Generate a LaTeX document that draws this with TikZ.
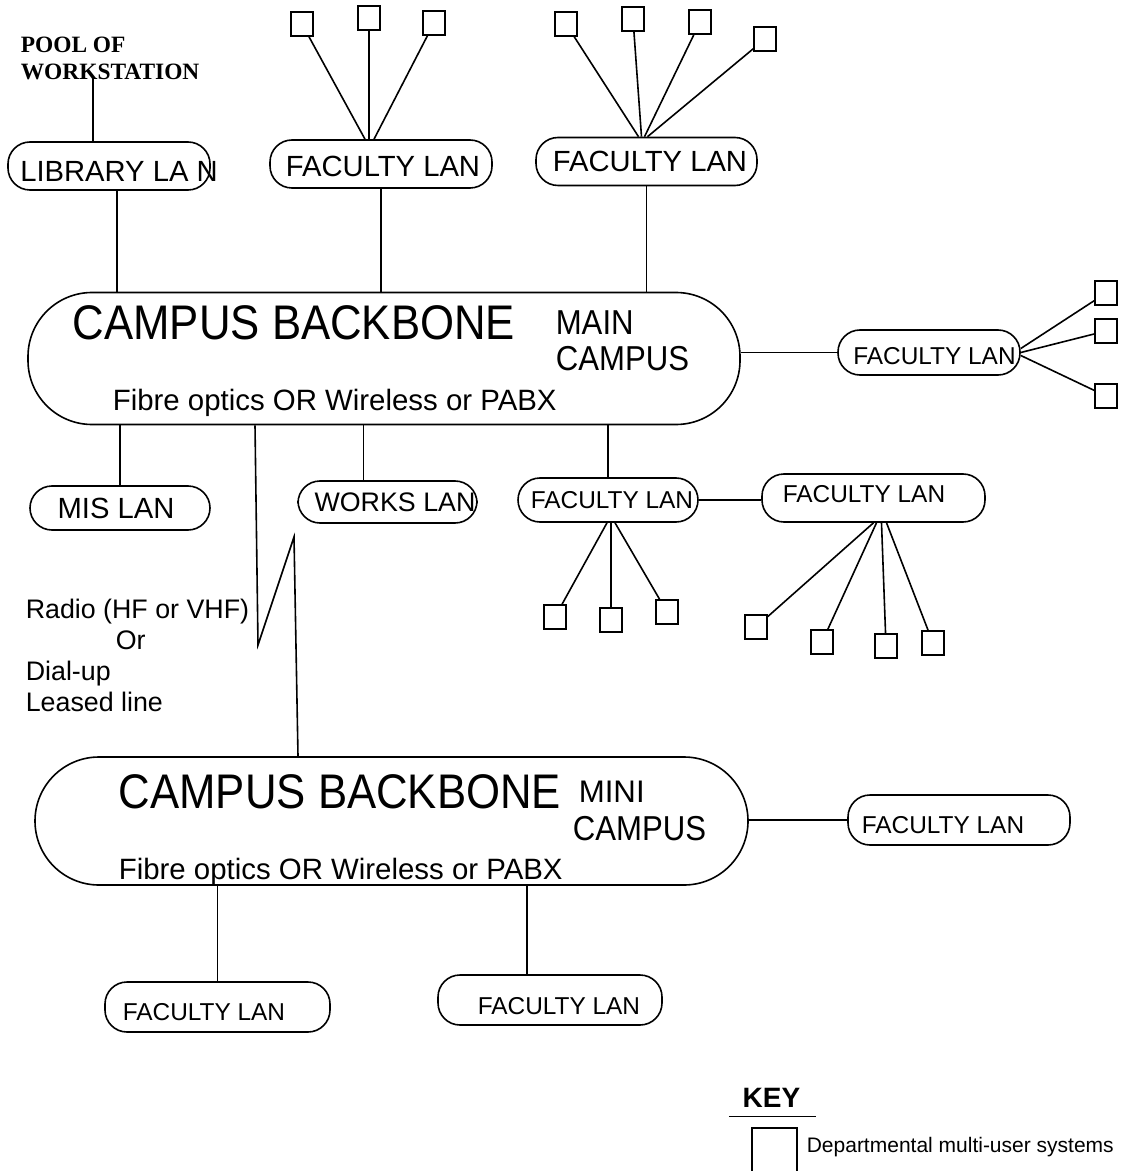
\documentclass[tikz,border=0pt]{standalone}
\usepackage{fontspec}
\setmainfont{Liberation Sans}
\newfontfamily\poolfont{Liberation Serif}
\newfontfamily\narrowfont[FakeStretch=0.9]{Liberation Sans}
\begin{document}
\begin{tikzpicture}[x=0.5pt,y=-0.5pt,line width=0.8pt,
  lan/.style={draw, rounded corners=11pt, minimum height=24pt, inner sep=0pt},
  backbone/.style={draw, rounded corners=32pt, minimum width=356pt, minimum height=66pt, inner sep=0pt},
  pc/.style={draw, minimum width=11pt, minimum height=12pt, inner sep=0pt},
  bigtxt/.style={inner sep=0pt, font=\fontsize{14.6}{17}\selectfont},
  smalltxt/.style={inner sep=0pt, font=\fontsize{12.2}{14}\selectfont},
  titletxt/.style={anchor=base west, inner sep=0pt, font={\narrowfont\fontsize{24.3}{28}\selectfont}},
  campustxt/.style={anchor=base west, inner sep=0pt, font={\narrowfont\fontsize{17.3}{20}\selectfont}},
  mediatxt/.style={anchor=base west, inner sep=0pt, font=\fontsize{14.7}{17}\selectfont}]
\path[use as bounding box] (0,0) rectangle (1123,1171);

% main campus backbone
\node[backbone] (bbm) at (384,358.5) {};
\node[titletxt] (bbmtitle) at (72,340) {CAMPUS BACKBONE};
\node[campustxt] (bbmmain) at (555,335) {MAIN};
\node[campustxt] (bbmcampus) at (555,371) {CAMPUS};
\node[mediatxt] (bbmmedia) at (112,410) {Fibre optics OR Wireless or PABX};

% library
\node[anchor=north west, inner sep=0pt, align=left,
  font={\poolfont\bfseries\fontsize{11.7}{13.5}\selectfont}] (pool) at (20,36) {POOL OF\\WORKSTATION};
\node[lan, minimum width=101pt] (lib) at (109,166) {};
\node[bigtxt] (libtxt) at (119,171) {LIBRARY LA N};
\coordinate (poolfoot) at (93,76);
\draw (poolfoot) -- (poolfoot |- lib.north);
\draw ([xshift=4pt]lib.south) -- ([xshift=4pt]lib.south |- bbm.north);

% faculty LANs on top
\node[lan, minimum width=111pt] (fac1) at (381,164) {};
\node[bigtxt] (fac1txt) at (383,166.5) {FACULTY LAN};
\draw (fac1.south) -- (fac1.south |- bbm.north);
\node[pc] (pca1) at (302,24) {};
\node[pc] (pca2) at (369,18) {};
\node[pc] (pca3) at (434,23) {};
\draw (pca1) -- ([xshift=-8pt]fac1.north);
\draw (pca2) -- ([xshift=-6pt]fac1.north);
\draw (pca3) -- ([xshift=-3.5pt]fac1.north);

\node[lan, minimum width=110.5pt] (fac2) at (646.5,161.5) {};
\node[bigtxt] (fac2txt) at (650,161.5) {FACULTY LAN};
\draw (fac2.south) -- (fac2.south |- bbm.north);
\node[pc] (pcb1) at (566,24) {};
\node[pc] (pcb2) at (633,19) {};
\node[pc] (pcb3) at (700,22) {};
\node[pc] (pcb4) at (765,39) {};
\draw (pcb1) -- ([xshift=-4pt]fac2.north);
\draw (pcb2) -- ([xshift=-2.5pt]fac2.north);
\draw (pcb3) -- ([xshift=-1pt]fac2.north);
\draw (pcb4) -- ([xshift=0.5pt]fac2.north);

% faculty LAN on the right
\node[lan, minimum width=91pt, minimum height=22.5pt] (fac3) at (929,352.5) {};
\node[smalltxt] (fac3txt) at (934.5,356) {FACULTY LAN};
\draw (fac3.west) -- (fac3.west -| bbm.east);
\node[pc] (pcc1) at (1106,293) {};
\node[pc] (pcc2) at (1106,331) {};
\node[pc] (pcc3) at (1106,396) {};
\draw ([yshift=2pt]fac3.east) -- (pcc1);
\draw (fac3.east) -- (pcc2);
\draw ([yshift=-1.5pt]fac3.east) -- (pcc3);

% LANs below the main backbone
\node[lan, minimum width=90pt, minimum height=22pt] (mis) at (120,508) {};
\node[bigtxt] (mistxt) at (116,508) {MIS LAN};
\draw (mis.north) -- (mis.north |- bbm.south);

\node[lan, minimum width=89.5pt, minimum height=21pt] (works) at (387.5,502) {};
\node[inner sep=0pt, font=\fontsize{13.4}{16}\selectfont] (workstxt) at (395,502) {WORKS LAN};
\draw ([xshift=-12pt]works.north) -- ([xshift=-12pt]works.north |- bbm.south);

\node[lan, minimum width=90pt, minimum height=22pt] (fac4) at (608,500) {};
\node[smalltxt] (fac4txt) at (612,500) {FACULTY LAN};
\draw (fac4.north) -- (fac4.north |- bbm.south);
\node[pc] (pcd1) at (555,617) {};
\node[pc] (pcd2) at (611,620) {};
\node[pc] (pcd3) at (667,612) {};
\draw ([xshift=-0.5pt]fac4.south) -- (pcd1);
\draw ([xshift=1.5pt]fac4.south) -- (pcd2);
\draw ([xshift=3.5pt]fac4.south) -- (pcd3);

\node[lan, minimum width=111.5pt] (fac5) at (873.5,498) {};
\node[smalltxt] (fac5txt) at (864,494.5) {FACULTY LAN};
\draw (fac4.east) -- (fac4.east -| fac5.west);
\node[pc] (pce1) at (756,627) {};
\node[pc] (pce2) at (822,642) {};
\node[pc] (pce3) at (886,646) {};
\node[pc] (pce4) at (933,643) {};
\draw (fac5.south) -- (pce1);
\draw ([xshift=1.5pt]fac5.south) -- (pce2);
\draw ([xshift=4pt]fac5.south) -- (pce3);
\draw ([xshift=6.5pt]fac5.south) -- (pce4);

% link between the campuses
\node[anchor=north west, inner sep=0pt, align=left, font=\fontsize{13.4}{15.5}\selectfont] (radio) at (25,598)
  {Radio (HF or VHF)\\\hspace*{45pt}Or\\Dial-up\\Leased line};
\coordinate (zzlow) at (258,645);
\coordinate (zzhigh) at (294,537);

% mini campus backbone
\node[backbone, minimum width=356.5pt, minimum height=64pt] (bbs) at (391.5,821) {};
\node[titletxt] (bbstitle) at (118,808) {CAMPUS BACKBONE};
\node[inner sep=0pt, anchor=base west, font=\fontsize{15.6}{18}\selectfont] (bbsmini) at (578,802) {MINI};
\node[campustxt] (bbscampus) at (572,840) {CAMPUS};
\node[mediatxt] (bbsmedia) at (118,879) {Fibre optics OR Wireless or PABX};
\draw ([xshift=-64.5pt]bbm.south) -- (zzlow) -- (zzhigh) -- ([xshift=-46.75pt]bbs.north);

\node[lan, minimum width=111pt, minimum height=25pt] (fac6) at (959,820) {};
\node[smalltxt] (fac6txt) at (943,825) {FACULTY LAN};
\draw (fac6.west) -- (fac6.west -| bbs.east);

\node[lan, minimum width=112.5pt, minimum height=25pt] (fac7) at (217.5,1007) {};
\node[smalltxt] (fac7txt) at (204,1012) {FACULTY LAN};
\draw (fac7.north) -- (fac7.north |- bbs.south);

\node[lan, minimum width=112pt, minimum height=25pt] (fac8) at (550,1000) {};
\node[smalltxt] (fac8txt) at (559,1006.5) {FACULTY LAN};
\draw ([xshift=-11.5pt]fac8.north) -- ([xshift=-11.5pt]fac8.north |- bbs.south);

% key
\node[inner sep=0pt, font=\bfseries\fontsize{14}{16}\selectfont] (keytxt) at (771.5,1097.5) {KEY};
\draw[line width=0.5pt] ([xshift=-6.5pt,yshift=-4.5pt]keytxt.south west) -- ([xshift=7.5pt,yshift=-4.5pt]keytxt.south east);
\node[pc, minimum width=22.5pt, minimum height=23pt] (keypc) at (774.5,1151) {};
\node[anchor=base west, inner sep=0pt, font=\fontsize{10.5}{13}\selectfont] (keydesc) at (806,1152) {Departmental multi-user systems};
\end{tikzpicture}
\end{document}
